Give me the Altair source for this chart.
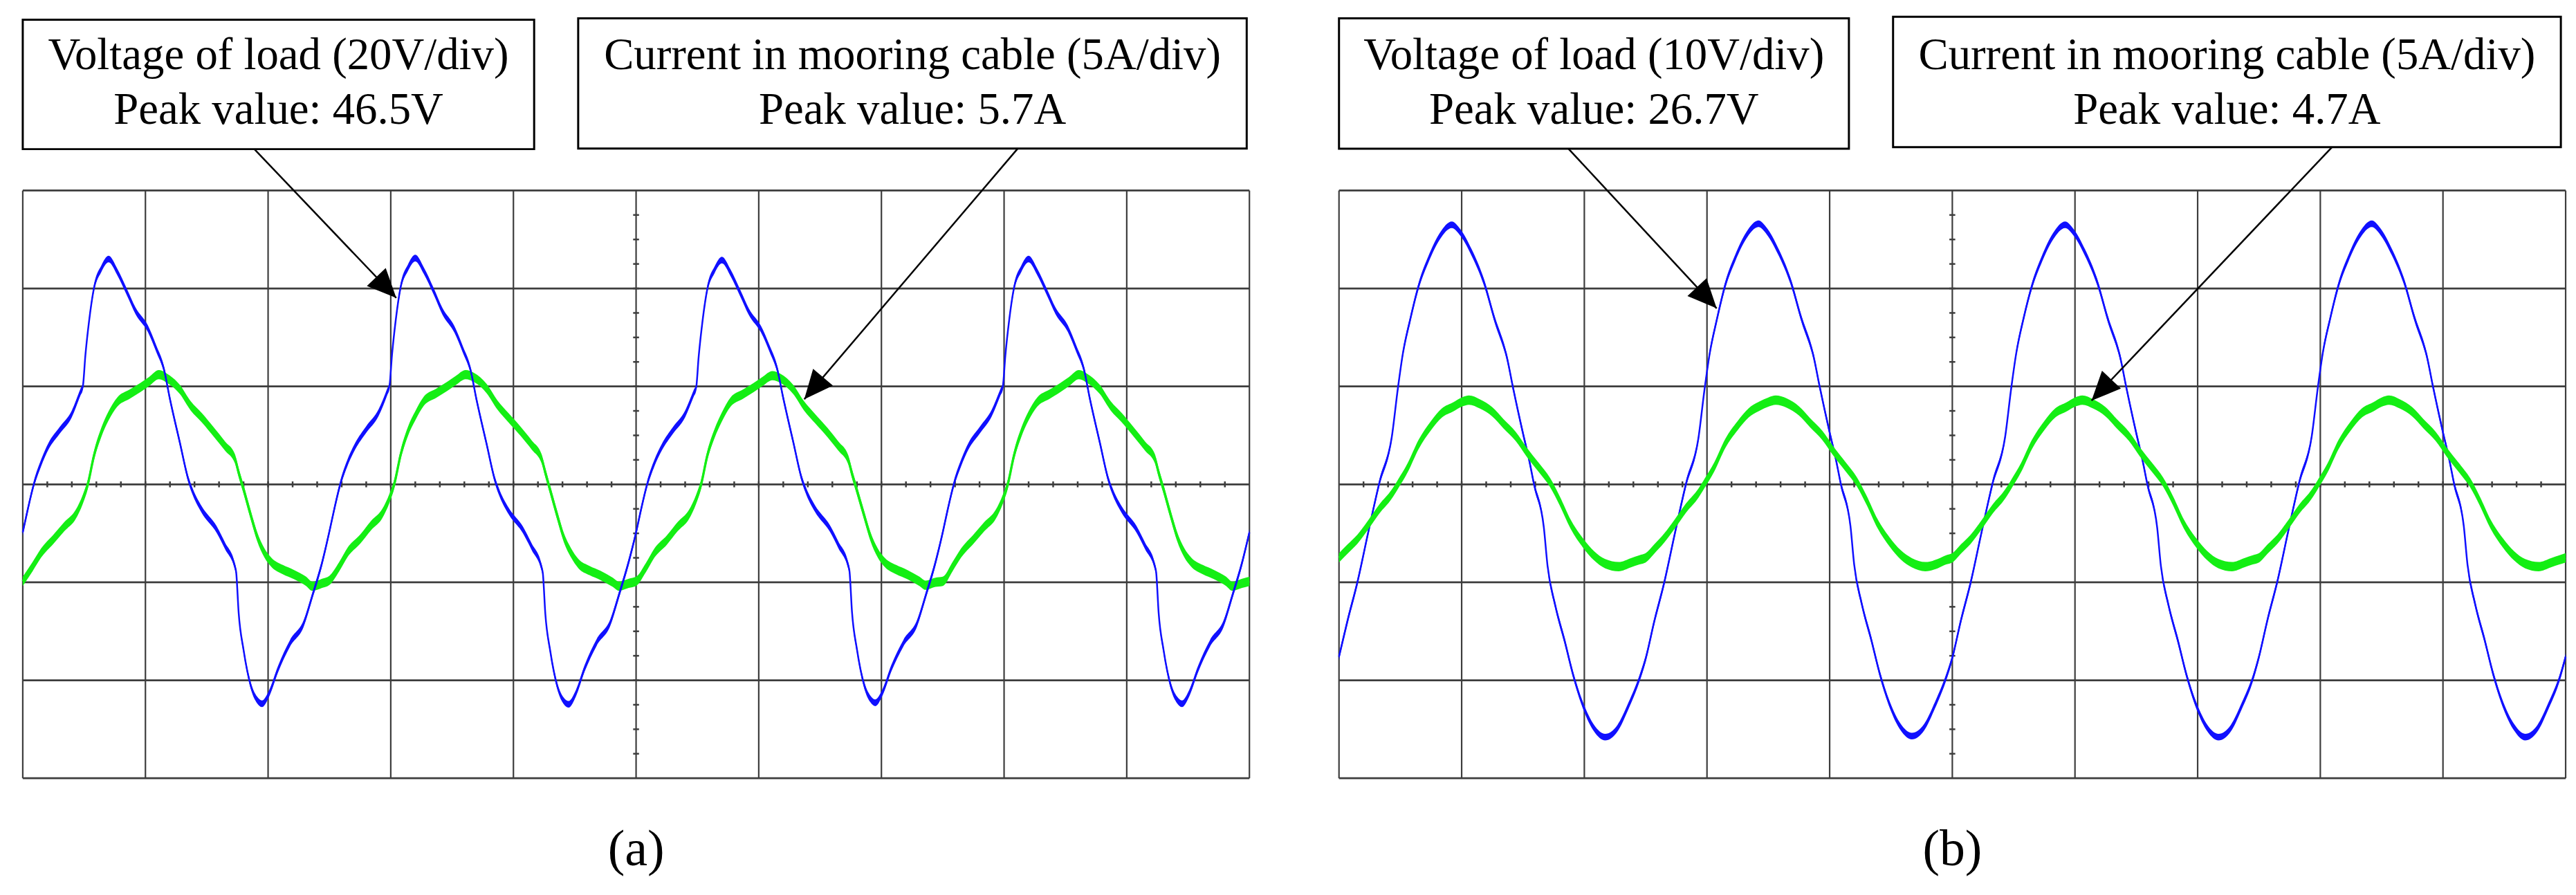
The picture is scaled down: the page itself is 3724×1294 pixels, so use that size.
import math
import altair as alt
import pandas as pd

# ------------------------------------------------------------------
# Oscillogram traces (time axis in divisions)
# Panel (a): voltage 20 V/div, current 5 A/div
# ------------------------------------------------------------------
a_volt_time = [
    0.00, 0.04, 0.09, 0.15, 0.21, 0.30, 0.40, 0.47, 0.49, 0.51, 0.54, 0.58, 0.64, 0.70, 0.77, 0.85, 0.92, 1.02, 1.09, 1.15,
    1.20, 1.28, 1.35, 1.39, 1.46, 1.58, 1.65, 1.73, 1.74, 1.76, 1.80, 1.86, 1.91, 1.95, 2.01, 2.08, 2.18, 2.29, 2.36, 2.44,
    2.50, 2.54, 2.59, 2.65, 2.71, 2.80, 2.90, 2.97, 2.99, 3.01, 3.04, 3.08, 3.14, 3.20, 3.27, 3.35, 3.42, 3.52, 3.59, 3.65,
    3.70, 3.78, 3.85, 3.89, 3.96, 4.08, 4.15, 4.23, 4.24, 4.26, 4.30, 4.36, 4.41, 4.45, 4.51, 4.58, 4.68, 4.79, 4.86, 4.94,
    5.00, 5.04, 5.09, 5.15, 5.21, 5.30, 5.40, 5.47, 5.49, 5.51, 5.54, 5.58, 5.64, 5.70, 5.77, 5.85, 5.92, 6.02, 6.09, 6.15,
    6.20, 6.28, 6.35, 6.39, 6.46, 6.58, 6.65, 6.73, 6.74, 6.76, 6.80, 6.86, 6.91, 6.95, 7.01, 7.08, 7.18, 7.29, 7.36, 7.44,
    7.50, 7.54, 7.59, 7.65, 7.71, 7.80, 7.90, 7.97, 7.99, 8.01, 8.04, 8.08, 8.14, 8.20, 8.27, 8.35, 8.42, 8.52, 8.59, 8.65,
    8.70, 8.78, 8.85, 8.89, 8.96, 9.08, 9.15, 9.23, 9.24, 9.26, 9.30, 9.36, 9.41, 9.45, 9.51, 9.58, 9.68, 9.79, 9.86, 9.94,
    10.00,
]
a_volt = [
    -9.8, -5.2, 0.0, 4.4, 7.8, 11.0, 14.4, 18.8, 20.0, 26.2, 33.2, 40.0, 44.0, 46.0, 43.4, 39.2, 35.4, 31.8, 27.6, 23.6,
    17.4, 8.6, 1.0, -1.8, -5.2, -9.2, -12.6, -16.8, -18.0, -26.2, -33.8, -41.2, -44.0, -44.8, -42.6, -37.8, -32.4, -28.4, -22.8, -16.0,
    -9.6, -5.0, 0.2, 4.6, 7.8, 11.2, 14.6, 18.8, 20.2, 26.4, 33.4, 40.2, 44.2, 46.2, 43.6, 39.4, 35.4, 31.6, 27.4, 23.4,
    17.2, 8.4, 0.8, -2.0, -5.4, -9.4, -12.8, -17.0, -18.2, -26.4, -34.0, -41.4, -44.2, -44.9, -42.6, -37.6, -32.2, -28.2, -22.6, -15.8,
    -9.8, -5.2, 0.0, 4.4, 7.6, 11.0, 14.4, 18.6, 19.8, 26.0, 33.0, 39.8, 43.8, 45.8, 43.2, 39.0, 35.2, 31.6, 27.6, 23.6,
    17.6, 8.8, 1.2, -1.6, -5.0, -9.0, -12.4, -16.6, -17.8, -26.0, -33.6, -41.0, -43.8, -44.6, -42.4, -37.6, -32.4, -28.4, -22.8, -16.0,
    -9.8, -5.2, 0.0, 4.4, 7.8, 11.0, 14.6, 18.8, 20.0, 26.2, 33.2, 40.0, 44.0, 46.0, 43.4, 39.2, 35.4, 31.8, 27.6, 23.6,
    17.4, 8.6, 1.0, -1.8, -5.2, -9.2, -12.6, -16.8, -18.0, -26.2, -33.8, -41.2, -44.0, -44.8, -42.6, -37.8, -32.4, -28.4, -22.8, -16.0,
    -9.8,
]
a_curr_time = [
    0.00, 0.08, 0.15, 0.25, 0.34, 0.43, 0.49, 0.53, 0.58, 0.64, 0.70, 0.77, 0.87, 0.96, 1.03, 1.11, 1.18, 1.28, 1.37, 1.46,
    1.56, 1.65, 1.73, 1.76, 1.80, 1.86, 1.91, 1.97, 2.03, 2.12, 2.21, 2.31, 2.36, 2.44,
    2.50, 2.58, 2.65, 2.75, 2.84, 2.93, 2.99, 3.03, 3.08, 3.14, 3.20, 3.27, 3.37, 3.46, 3.53, 3.61, 3.68, 3.78, 3.87, 3.96,
    4.06, 4.15, 4.23, 4.26, 4.30, 4.36, 4.41, 4.47, 4.53, 4.62, 4.71, 4.81, 4.86, 4.94,
    5.00, 5.08, 5.15, 5.25, 5.34, 5.43, 5.49, 5.53, 5.58, 5.64, 5.70, 5.77, 5.87, 5.96, 6.03, 6.11, 6.18, 6.28, 6.37, 6.46,
    6.56, 6.65, 6.73, 6.76, 6.80, 6.86, 6.91, 6.97, 7.03, 7.12, 7.21, 7.31, 7.36, 7.44,
    7.50, 7.58, 7.65, 7.75, 7.84, 7.93, 7.99, 8.03, 8.08, 8.14, 8.20, 8.27, 8.37, 8.46, 8.53, 8.61, 8.68, 8.78, 8.87, 8.96,
    9.06, 9.15, 9.23, 9.26, 9.30, 9.36, 9.41, 9.47, 9.53, 9.62, 9.71, 9.81, 9.86, 9.94,
    10.00,
]
a_curr = [
    -4.95, -4.2, -3.5, -2.8, -2.15, -1.55, -0.75, 0.0, 1.45, 2.65, 3.5, 4.2, 4.6, 4.95, 5.25, 5.6, 5.4, 4.85, 4.0, 3.4,
    2.65, 1.95, 1.3, 0.6, -0.25, -1.6, -2.65, -3.5, -4.0, -4.35, -4.6, -4.95, -5.2, -5.05,
    -4.9, -4.2, -3.45, -2.8, -2.1, -1.5, -0.7, 0.05, 1.5, 2.7, 3.5, 4.25, 4.65, 5.0, 5.3, 5.6, 5.45, 4.9, 4.05, 3.4,
    2.7, 2.0, 1.3, 0.6, -0.3, -1.65, -2.7, -3.5, -4.05, -4.4, -4.65, -5.0, -5.2, -5.05,
    -4.95, -4.25, -3.5, -2.85, -2.15, -1.55, -0.75, 0.0, 1.45, 2.6, 3.45, 4.2, 4.6, 4.95, 5.25, 5.55, 5.4, 4.85, 4.0, 3.35,
    2.65, 1.95, 1.25, 0.55, -0.3, -1.6, -2.65, -3.5, -4.0, -4.35, -4.6, -4.95, -5.15, -5.0,
    -4.95, -4.2, -3.5, -2.8, -2.15, -1.55, -0.75, 0.0, 1.45, 2.65, 3.5, 4.2, 4.6, 4.95, 5.25, 5.6, 5.4, 4.85, 4.0, 3.4,
    2.65, 1.95, 1.3, 0.6, -0.25, -1.6, -2.65, -3.5, -4.0, -4.35, -4.6, -4.95, -5.2, -5.05,
    -4.95,
]

# Panel (b): voltage 10 V/div, current 5 A/div
b_volt_time = [
    0.00, 0.07, 0.15, 0.24, 0.33, 0.43, 0.48, 0.52, 0.58, 0.65, 0.73, 0.82, 0.92, 0.99, 1.08, 1.18, 1.27, 1.37, 1.42, 1.50,
    1.55, 1.59, 1.67, 1.70, 1.76, 1.84, 1.91, 1.99, 2.08, 2.17, 2.27, 2.36, 2.45,
    2.50, 2.57, 2.65, 2.74, 2.83, 2.93, 2.98, 3.02, 3.08, 3.15, 3.23, 3.32, 3.42, 3.49, 3.58, 3.68, 3.77, 3.87, 3.92, 4.00,
    4.05, 4.09, 4.17, 4.20, 4.26, 4.34, 4.41, 4.49, 4.58, 4.67, 4.77, 4.86, 4.95,
    5.00, 5.07, 5.15, 5.24, 5.33, 5.43, 5.48, 5.52, 5.58, 5.65, 5.73, 5.82, 5.92, 5.99, 6.08, 6.18, 6.27, 6.37, 6.42, 6.50,
    6.55, 6.59, 6.67, 6.70, 6.76, 6.84, 6.91, 6.99, 7.08, 7.17, 7.27, 7.36, 7.45,
    7.50, 7.57, 7.65, 7.74, 7.83, 7.93, 7.98, 8.02, 8.08, 8.15, 8.23, 8.32, 8.42, 8.49, 8.58, 8.68, 8.77, 8.87, 8.92, 9.00,
    9.05, 9.09, 9.17, 9.20, 9.26, 9.34, 9.41, 9.49, 9.58, 9.67, 9.77, 9.86, 9.95,
    10.00,
]
b_volt = [
    -17.6, -13.9, -10.0, -4.8, 0.2, 4.8, 9.8, 13.3, 16.8, 20.3, 23.0, 25.3, 26.5, 25.7, 23.7, 20.7, 16.8, 12.9, 9.8, 5.2,
    2.5, 0.0, -4.4, -8.3, -12.2, -16.0, -19.5, -22.6, -24.9, -25.8, -24.9, -22.6, -19.8,
    -17.8, -14.0, -10.1, -4.9, 0.1, 4.7, 9.7, 13.2, 16.8, 20.4, 23.1, 25.4, 26.6, 25.8, 23.8, 20.8, 16.9, 13.0, 9.9, 5.3,
    2.6, 0.1, -4.3, -8.2, -12.1, -15.9, -19.4, -22.5, -24.8, -25.7, -24.8, -22.5, -19.7,
    -17.7, -13.9, -10.0, -4.8, 0.2, 4.8, 9.8, 13.3, 16.9, 20.3, 23.0, 25.3, 26.5, 25.7, 23.7, 20.7, 16.8, 12.9, 9.8, 5.2,
    2.5, 0.0, -4.4, -8.3, -12.2, -16.0, -19.5, -22.6, -24.9, -25.8, -24.9, -22.6, -19.8,
    -17.6, -13.8, -9.9, -4.7, 0.3, 4.9, 9.9, 13.4, 16.9, 20.4, 23.1, 25.4, 26.6, 25.8, 23.8, 20.8, 16.9, 13.0, 9.9, 5.3,
    2.6, 0.1, -4.3, -8.2, -12.1, -15.9, -19.4, -22.5, -24.8, -25.8, -24.9, -22.6, -19.8,
    -17.6,
]
b_curr_time = [
    0.00, 0.07, 0.15, 0.24, 0.33, 0.43, 0.48, 0.56, 0.65, 0.75, 0.84, 0.93, 1.00, 1.06, 1.15, 1.25, 1.34, 1.44, 1.53, 1.63,
    1.72, 1.80, 1.89, 1.99, 2.08, 2.17, 2.28, 2.38, 2.45,
    2.50, 2.57, 2.65, 2.74, 2.83, 2.93, 2.98, 3.06, 3.15, 3.25, 3.34, 3.43, 3.50, 3.56, 3.65, 3.75, 3.84, 3.94, 4.03, 4.13,
    4.22, 4.30, 4.39, 4.49, 4.58, 4.67, 4.78, 4.88, 4.95,
    5.00, 5.07, 5.15, 5.24, 5.33, 5.43, 5.48, 5.56, 5.65, 5.75, 5.84, 5.93, 6.00, 6.06, 6.15, 6.25, 6.34, 6.44, 6.53, 6.63,
    6.72, 6.80, 6.89, 6.99, 7.08, 7.17, 7.28, 7.38, 7.45,
    7.50, 7.57, 7.65, 7.74, 7.83, 7.93, 7.98, 8.06, 8.15, 8.25, 8.34, 8.43, 8.50, 8.56, 8.65, 8.75, 8.84, 8.94, 9.03, 9.13,
    9.22, 9.30, 9.39, 9.49, 9.58, 9.67, 9.78, 9.88, 9.95,
    10.00,
]
b_curr = [
    -3.75, -3.3, -2.8, -2.05, -1.25, -0.5, 0.0, 0.85, 2.05, 3.0, 3.65, 3.95, 4.2, 4.3, 4.1, 3.7, 3.1, 2.45, 1.65, 0.85,
    0.1, -0.85, -2.05, -3.0, -3.65, -4.05, -4.2, -4.0, -3.85,
    -3.75, -3.3, -2.75, -2.0, -1.2, -0.45, 0.05, 0.9, 2.1, 3.0, 3.65, 4.0, 4.2, 4.3, 4.15, 3.75, 3.15, 2.5, 1.7, 0.9,
    0.15, -0.8, -2.0, -2.95, -3.6, -4.0, -4.2, -4.05, -3.85,
    -3.75, -3.3, -2.8, -2.05, -1.25, -0.5, 0.0, 0.85, 2.05, 3.0, 3.65, 3.95, 4.2, 4.3, 4.1, 3.7, 3.1, 2.45, 1.65, 0.85,
    0.1, -0.85, -2.05, -3.0, -3.65, -4.05, -4.2, -4.0, -3.85,
    -3.75, -3.3, -2.8, -2.05, -1.25, -0.5, 0.0, 0.85, 2.05, 3.0, 3.65, 3.95, 4.2, 4.3, 4.1, 3.7, 3.1, 2.45, 1.65, 0.85,
    0.1, -0.85, -2.05, -3.0, -3.65, -4.05, -4.2, -4.0, -3.85,
    -3.75,
]

assert len(a_volt_time) == len(a_volt)
assert len(a_curr_time) == len(a_curr)
assert len(b_volt_time) == len(b_volt)
assert len(b_curr_time) == len(b_curr)

# annotation texts
a_volt_text = ["Voltage of load (20V/div)", "Peak value: 46.5V"]
a_curr_text = ["Current in mooring cable (5A/div)", "Peak value: 5.7A"]
b_volt_text = ["Voltage of load (10V/div)", "Peak value: 26.7V"]
b_curr_text = ["Current in mooring cable (5A/div)", "Peak value: 4.7A"]
panel_names = ["(a)", "(b)"]
volts_per_div = [20, 10]
amps_per_div = [5, 5]

# ------------------------------------------------------------------
# layout / style
# ------------------------------------------------------------------
W = 1780          # 10 divisions
H = 1264
PX_X = W / 10.0
PX_Y = 853 / 6.0
Y_LO, Y_HI = -4.0762, 4.8148

BLUE = "#1010ff"
GREEN = "#14ee14"
GRID = "#3d3d3d"
FONT = "Liberation Serif"

# annotation geometry in division units: (x1, x2, y_bottom, y_top)
boxes_a = [(0.000, 4.169, 3.422, 4.744), (4.528, 9.978, 3.429, 4.758)]
boxes_b = [(0.000, 4.157, 3.426, 4.758), (4.517, 9.961, 3.443, 4.773)]
# arrows: (x_start, y_start, x_tip, y_tip)
arrows_a = [(1.888, 3.422, 3.045, 1.903), (8.112, 3.429, 6.371, 0.869)]
arrows_b = [(1.871, 3.426, 3.079, 1.797), (8.096, 3.443, 6.135, 0.855)]
LINE1_Y, LINE2_Y = 4.238, 3.682
NAME_Y = -3.886


def panel(vt, v, ct, c, vpd, apd, vtext, ctext, boxes, arrows, name, green_on_top):
    xs = alt.Scale(domain=[0, 10], nice=False, zero=False)
    ys = alt.Scale(domain=[Y_LO, Y_HI], nice=False, zero=False)
    vs = alt.Scale(domain=[Y_LO * vpd, Y_HI * vpd], nice=False, zero=False)
    cs = alt.Scale(domain=[Y_LO * apd, Y_HI * apd], nice=False, zero=False)

    # ---- graticule ----
    vgrid = pd.DataFrame({"x": list(range(11)), "y1": -3, "y2": 3})
    hgrid = pd.DataFrame({"y": list(range(-3, 4)), "x1": 0, "x2": 10})
    xt = pd.DataFrame({"x": [k * 0.2 for k in range(1, 50)], "y1": -0.03, "y2": 0.03})
    yt = pd.DataFrame({"y": [k * 0.25 for k in range(-11, 12)], "x1": 5 - 0.024, "x2": 5 + 0.024})

    g1 = alt.Chart(vgrid).mark_rule(color=GRID, strokeWidth=2.2).encode(
        x=alt.X("x:Q", scale=xs, axis=None), y=alt.Y("y1:Q", scale=ys, axis=None), y2="y2:Q")
    g2 = alt.Chart(hgrid).mark_rule(color=GRID, strokeWidth=2.8).encode(
        x=alt.X("x1:Q", scale=xs, axis=None), x2="x2:Q", y=alt.Y("y:Q", scale=ys, axis=None))
    g3 = alt.Chart(xt).mark_rule(color=GRID, strokeWidth=2.5).encode(
        x=alt.X("x:Q", scale=xs, axis=None), y=alt.Y("y1:Q", scale=ys, axis=None), y2="y2:Q")
    g4 = alt.Chart(yt).mark_rule(color=GRID, strokeWidth=2.5).encode(
        x=alt.X("x1:Q", scale=xs, axis=None), x2="x2:Q", y=alt.Y("y:Q", scale=ys, axis=None))
    grid = alt.layer(g1, g2, g3, g4)

    # ---- traces (noise band + core line) ----
    def trace(t, val, scale, color, band, width):
        df = pd.DataFrame({"t": t, "val": val})
        area = alt.Chart(df).transform_calculate(
            hi=f"datum.val + {band}", lo=f"datum.val - {band}"
        ).mark_area(color=color, interpolate="monotone", opacity=1).encode(
            x=alt.X("t:Q", scale=xs, axis=None),
            y=alt.Y("hi:Q", scale=scale, axis=None),
            y2="lo:Q",
        )
        line = alt.Chart(df).mark_line(color=color, strokeWidth=width, interpolate="monotone").encode(
            x=alt.X("t:Q", scale=xs, axis=None),
            y=alt.Y("val:Q", scale=scale, axis=None),
        )
        return alt.layer(area, line)

    volt = trace(vt, v, vs, BLUE, 0.034 * vpd, 2.5)
    curr = trace(ct, c, cs, GREEN, 0.047 * apd, 3.4)

    # ---- annotations ----
    box_df = pd.DataFrame(boxes, columns=["x1", "x2", "y1", "y2"])
    rects = alt.Chart(box_df).mark_rect(fill="white", stroke="black", strokeWidth=3).encode(
        x=alt.X("x1:Q", scale=xs, axis=None), x2="x2:Q",
        y=alt.Y("y1:Q", scale=ys, axis=None), y2="y2:Q")

    txt_rows = []
    for (x1, x2, _, _), lines in zip(boxes, [vtext, ctext]):
        cx = (x1 + x2) / 2
        txt_rows.append({"x": cx, "y": LINE1_Y, "label": lines[0]})
        txt_rows.append({"x": cx, "y": LINE2_Y, "label": lines[1]})
    texts = alt.Chart(pd.DataFrame(txt_rows)).mark_text(
        font=FONT, fontSize=65, align="center", baseline="alphabetic", color="black"
    ).encode(x=alt.X("x:Q", scale=xs, axis=None), y=alt.Y("y:Q", scale=ys, axis=None), text="label:N")

    arr_rows = []
    for xs0, ys0, xt0, yt0 in arrows:
        dx = (xt0 - xs0) * PX_X
        dy = -(yt0 - ys0) * PX_Y
        ang = math.degrees(math.atan2(dx, -dy)) % 360
        arr_rows.append({"xs": xs0, "ys": ys0, "xt": xt0, "yt": yt0, "ang": ang})
    arr_df = pd.DataFrame(arr_rows)
    shafts = alt.Chart(arr_df).mark_rule(color="black", strokeWidth=2.5).encode(
        x=alt.X("xs:Q", scale=xs, axis=None), x2="xt:Q",
        y=alt.Y("ys:Q", scale=ys, axis=None), y2="yt:Q")
    heads = alt.Chart(arr_df).mark_point(
        shape="M0,0L-0.9,2L0.9,2Z", filled=True, size=1764, color="black", opacity=1, strokeWidth=0
    ).encode(
        x=alt.X("xt:Q", scale=xs, axis=None), y=alt.Y("yt:Q", scale=ys, axis=None),
        angle=alt.Angle("ang:Q", scale=None))

    name_df = pd.DataFrame({"x": [5.0], "y": [NAME_Y], "label": [name]})
    name_txt = alt.Chart(name_df).mark_text(
        font=FONT, fontSize=74, align="center", baseline="alphabetic", color="black"
    ).encode(x=alt.X("x:Q", scale=xs, axis=None), y=alt.Y("y:Q", scale=ys, axis=None), text="label:N")

    annot = alt.layer(rects, texts, shafts, heads, name_txt)

    traces = [volt, curr] if green_on_top else [curr, volt]
    return alt.layer(grid, *traces, annot).resolve_scale(y="independent").properties(width=W, height=H)


pa = panel(a_volt_time, a_volt, a_curr_time, a_curr, volts_per_div[0], amps_per_div[0],
           a_volt_text, a_curr_text, boxes_a, arrows_a, panel_names[0], green_on_top=False)
pb = panel(b_volt_time, b_volt, b_curr_time, b_curr, volts_per_div[1], amps_per_div[1],
           b_volt_text, b_curr_text, boxes_b, arrows_b, panel_names[1], green_on_top=True)

chart = alt.hconcat(pa, pb, spacing=116).properties(
    padding={"left": 18, "top": 8, "right": 0, "bottom": 0},
    background="white",
).configure_view(stroke="transparent", strokeWidth=0)

chart.save("out.html", embed_options={"renderer": "svg", "actions": False})
